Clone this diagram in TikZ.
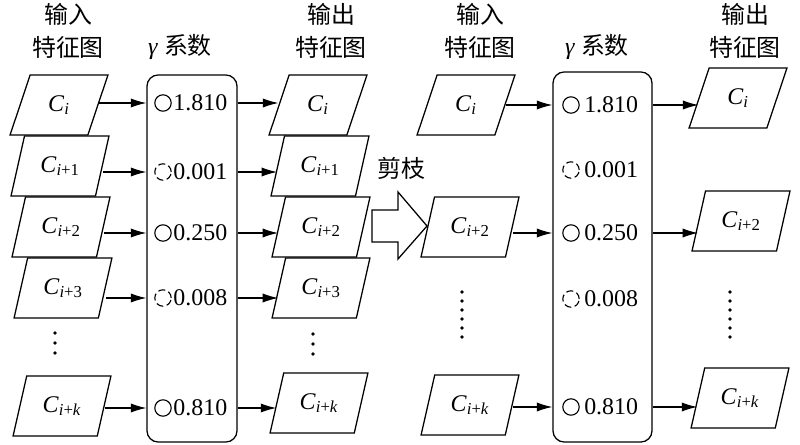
\documentclass[tikz,border=0pt]{standalone}
\usepackage{fontspec}
\setmainfont{Liberation Serif}
\newfontfamily\cjk{Noto Sans CJK SC}
\usetikzlibrary{shapes.geometric,arrows.meta,positioning,calc}

\newcommand{\fmap}[1]{\textit{C}\textsubscript{\textit{i}#1}}

\begin{document}
\begin{tikzpicture}[x=0.025cm, y=-0.025cm,
  font=\fontsize{17}{23}\selectfont,
  fmap/.style={trapezium, trapezium left angle=69, trapezium right angle=111,
    trapezium stretches=true, draw, fill=white, line width=0.9pt,
    minimum width=2.45cm, minimum height=1.5cm, inner sep=0pt},
  gbox/.style={draw, rounded corners=8pt, line width=0.9pt},
  gcirc/.style={circle, draw, line width=0.8pt, minimum size=0.41cm, inner sep=0pt},
  gcut/.style={gcirc, dash pattern=on 5pt off 2.5pt},
  val/.style={inner sep=1pt},
  title/.style={align=center, font=\fontsize{17}{23}\selectfont\cjk},
  arr/.style={-{Latex[length=11pt,width=6.5pt]}, line width=0.8pt},
  dot/.style={circle, fill, inner sep=0pt, minimum size=2.6pt}]
\useasboundingbox (0,0) rectangle (800,445);

% titles
\node[title] (tin) at (68,31) {输入\\特征图};
\node[title] (tgam) at (180,47) {\rmfamily\textit{γ} \cjk 系数};
\node[title] (tout) at (331,31) {输出\\特征图};
\node[title] (rtin) at (480,31) {输入\\特征图};
\node[title] (rtgam) at (597,47) {\rmfamily\textit{γ} \cjk 系数};
\node[title] (rtout) at (745,31) {输出\\特征图};

% gamma boxes
\node[gbox, minimum width=2.25cm, minimum height=9.175cm] (lbox) at (192,258.5) {};
\node[gbox, minimum width=2.475cm, minimum height=9.25cm] (rbox) at (602.5,257) {};

\foreach \n/\y/\v/\s in {1/103/1.810/gcirc, 2/172/0.001/gcut, 3/233/0.250/gcirc,
                         4/298/0.008/gcut, 5/408/0.810/gcirc} {
  \node[\s] (lc\n) at (163,\y) {};
  \node[val, right=0pt of lc\n] (lv\n) {\v};
}
\foreach \n/\y/\v/\s in {1/105/1.810/gcirc, 2/170/0.001/gcut, 3/233/0.250/gcirc,
                         4/299/0.008/gcut, 5/407/0.810/gcirc} {
  \node[\s] (rc\n) at (571,\y) {};
  \node[val, right=2pt of rc\n] (rv\n) {\v};
}

% input feature maps (left)
\node[fmap] (in1) at (59,105) {\fmap{}};
\node[fmap] (in2) at (60,166) {\fmap{+1}};
\node[fmap] (in3) at (61,227) {\fmap{+2}};
\node[fmap] (in4) at (63,288) {\fmap{+3}};
\node[fmap] (in5) at (62,406) {\fmap{+\textit{k}}};

% output feature maps (left)
\node[fmap] (out1) at (318,105) {\fmap{}};
\node[fmap] (out2) at (320,166) {\fmap{+1}};
\node[fmap] (out3) at (321,227) {\fmap{+2}};
\node[fmap] (out4) at (321,288) {\fmap{+3}};
\node[fmap] (out5) at (319,403) {\fmap{+\textit{k}}};

\foreach \n in {1,...,5} {
  \draw[arr] (in\n.east |- lc\n) -- (lbox.west |- lc\n);
  \draw[arr] (lbox.east |- lc\n) -- (out\n.west |- lc\n);
}

% pruning arrow
\coordinate (prune) at (372,210);
\draw[line width=0.9pt] (prune) -- ++(26,0) -- ++(0,-18) -- ++(29,34)
  -- ++(-29,33) -- ++(0,-17) -- ++(-26,0) -- cycle;
\node[title] (cut) at (401,168) {剪枝};

% input feature maps (right)
\node[fmap] (rin1) at (466,105) {\fmap{}};
\node[fmap] (rin3) at (470,227) {\fmap{+2}};
\node[fmap] (rin5) at (470,405) {\fmap{+\textit{k}}};

% output feature maps (right)
\node[fmap] (rout1) at (738,98) {\fmap{}};
\node[fmap] (rout3) at (741,221) {\fmap{+2}};
\node[fmap] (rout5) at (740,398) {\fmap{+\textit{k}}};

\foreach \n in {1,3,5} {
  \draw[arr] (rin\n.east |- rc\n) -- (rbox.west |- rc\n);
  \draw[arr] (rbox.east |- rc\n) -- (rout\n.west |- rc\n);
}

% dots
\foreach \y in {333,343,353} {
  \node[dot] at (55,\y) {};
  \node[dot] at (313,\y+1) {};
}
\foreach \y in {292,301,310,319,328,337} {
  \node[dot] at (462,\y) {};
  \node[dot] at (730,\y) {};
}
\end{tikzpicture}
\end{document}
